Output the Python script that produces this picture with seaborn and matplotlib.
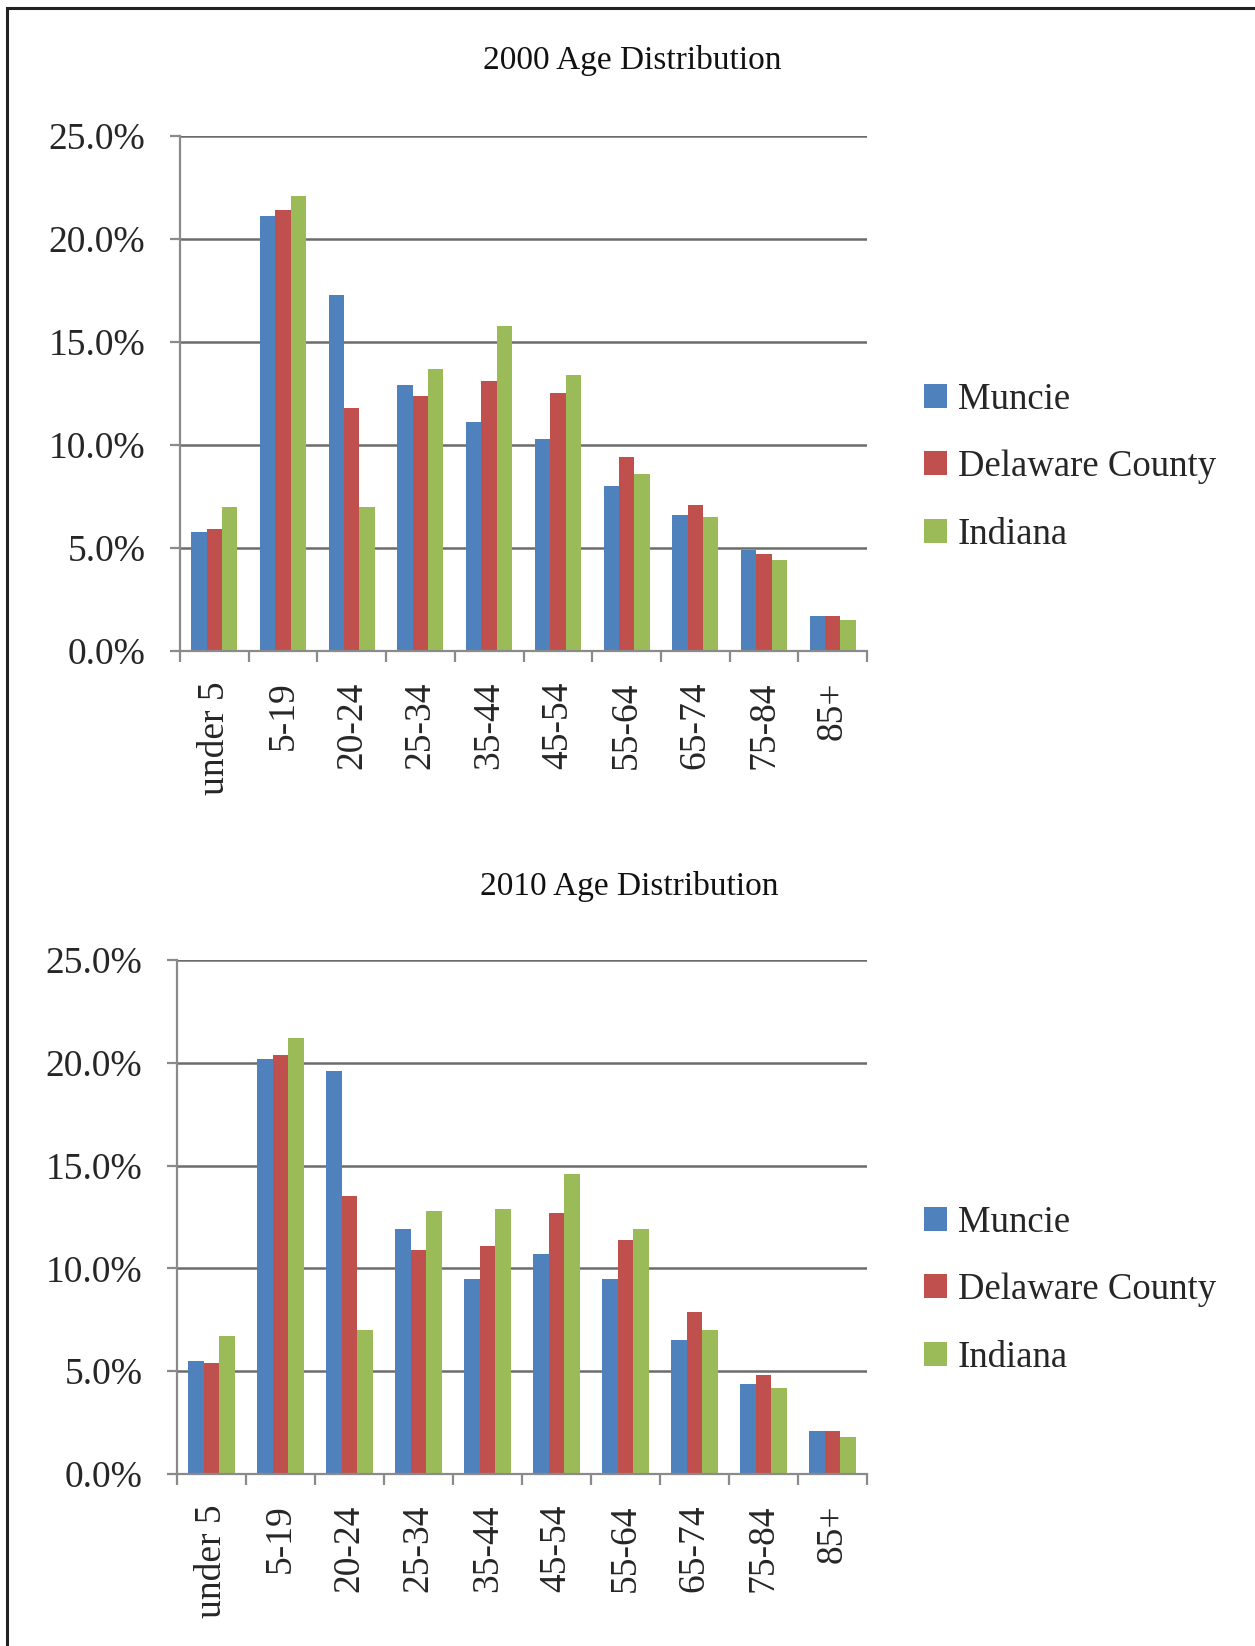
import numpy as np
import pandas as pd
import matplotlib
matplotlib.use("Agg")
import matplotlib.pyplot as plt
import matplotlib.patches as mpatches
from matplotlib.ticker import FuncFormatter, FixedLocator
import seaborn as sns

# ---- data ----
age_groups = ["under 5", "5-19", "20-24", "25-34", "35-44", "45-54", "55-64", "65-74", "75-84", "85+"]
series_names = ["Muncie", "Delaware County", "Indiana"]

muncie_2000 = [5.8, 21.1, 17.3, 12.9, 11.1, 10.3, 8.0, 6.6, 4.9, 1.7]
delaware_2000 = [5.9, 21.4, 11.8, 12.4, 13.1, 12.5, 9.4, 7.1, 4.7, 1.7]
indiana_2000 = [7.0, 22.1, 7.0, 13.7, 15.8, 13.4, 8.6, 6.5, 4.4, 1.5]

muncie_2010 = [5.5, 20.2, 19.6, 11.9, 9.5, 10.7, 9.5, 6.5, 4.4, 2.1]
delaware_2010 = [5.4, 20.4, 13.5, 10.9, 11.1, 12.7, 11.4, 7.9, 4.8, 2.1]
indiana_2010 = [6.7, 21.2, 7.0, 12.8, 12.9, 14.6, 11.9, 7.0, 4.2, 1.8]

titles = ["2000 Age Distribution", "2010 Age Distribution"]
colors = ["#4F81BD", "#C0504D", "#9BBB59"]


def long_frame(m, d, i):
    rows = []
    for name, vals in zip(series_names, [m, d, i]):
        for g, v in zip(age_groups, vals):
            rows.append({"age": g, "series": name, "pct": v / 100.0})
    return pd.DataFrame(rows)


df2000 = long_frame(muncie_2000, delaware_2000, indiana_2000)
df2010 = long_frame(muncie_2010, delaware_2010, indiana_2010)

sns.set_theme(style="white")
plt.rcParams["font.family"] = ["Liberation Serif", "DejaVu Serif"]

W, H = 1255, 1646
fig = plt.figure(figsize=(W / 100, H / 100), dpi=100)
fig.patch.set_facecolor("white")

grid_c = "#6c6c6c"
spine_c = "#8a8a8a"

# axes rectangles in pixel coordinates: (left, top, right, bottom)
rects = [(180, 136, 867, 651), (177, 960, 867, 1474)]
legend_centers = [(924, 467), (924, 1290)]
title_pos = [(632, 61), (629, 887)]

for k, (df, rect) in enumerate(zip([df2000, df2010], rects)):
    l, t, r, b = rect
    ax = fig.add_axes([l / W, 1 - b / H, (r - l) / W, (b - t) / H])
    sns.barplot(data=df, x="age", y="pct", hue="series", order=age_groups,
                hue_order=series_names, palette=colors, width=0.67, gap=0,
                linewidth=0, saturation=1, errorbar=None, ax=ax, legend=True)
    ax.set_xlim(-0.5, len(age_groups) - 0.5)
    ax.set_ylim(0, 0.25)
    ax.set_yticks(np.arange(0, 0.2501, 0.05))
    ax.yaxis.set_major_formatter(FuncFormatter(lambda v, p: f"{v*100:.1f}%"))
    ax.set_xlabel("")
    ax.set_ylabel("")
    for yv in np.arange(0.05, 0.2501, 0.05):
        ax.axhline(yv, color=grid_c, lw=1.8, zorder=0)
    for s in ["top", "right"]:
        ax.spines[s].set_visible(False)
    for s in ["left", "bottom"]:
        ax.spines[s].set_visible(True)
        ax.spines[s].set_color(spine_c)
        ax.spines[s].set_linewidth(1.6)
    ax.tick_params(axis="y", which="major", length=7, width=1.6, color=spine_c,
                   labelsize=27, pad=18, left=True)
    ax.tick_params(axis="x", which="major", length=0, labelsize=27, pad=22,
                   labelrotation=90)
    ax.xaxis.set_minor_locator(FixedLocator(np.arange(-0.5, len(age_groups), 1.0)))
    ax.tick_params(axis="x", which="minor", length=8, width=1.6, color=spine_c,
                   bottom=True)
    for lab in ax.get_xticklabels():
        lab.set_verticalalignment("top")
    ax.set_facecolor("white")

    handles, labels = ax.get_legend_handles_labels()
    ax.legend_.remove()
    lx, ly = legend_centers[k]
    fig.legend(handles, labels, loc="center left",
               bbox_to_anchor=(lx / W, 1 - ly / H), frameon=False,
               fontsize=26.5, handlelength=0.62, handleheight=0.62,
               handletextpad=0.3, labelspacing=0.9, borderpad=0,
               borderaxespad=0)

    tx, ty = title_pos[k]
    fig.text(tx / W, 1 - ty / H, titles[k], ha="center", va="center", fontsize=24,
             color="#111111")

# outer frame
frame = mpatches.Rectangle((7 / W, -0.05), 1.2, 1 - 8 / H + 0.05,
                           transform=fig.transFigure, fill=False,
                           edgecolor="#222222", lw=2.2)
fig.patches.append(frame)

fig.savefig("out.png", dpi=100, facecolor="white")
